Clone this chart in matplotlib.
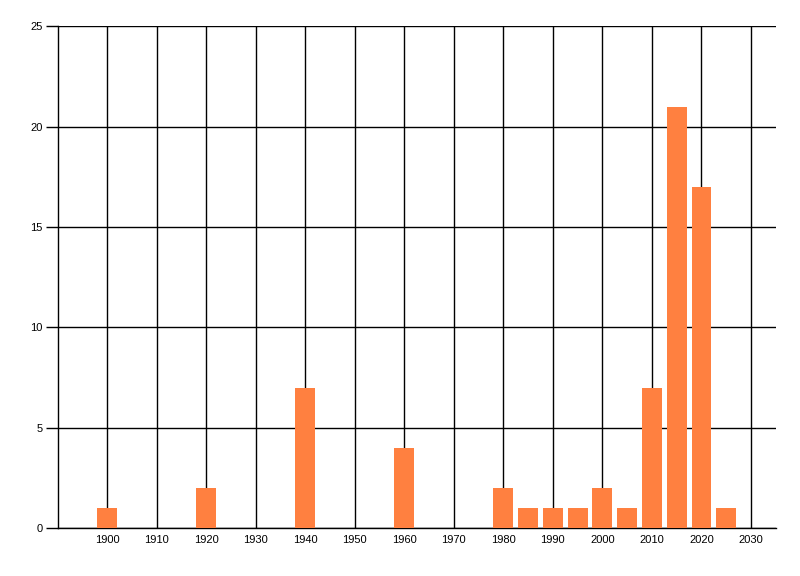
import matplotlib
matplotlib.use("Agg")
import matplotlib.pyplot as plt

# decade/year bins and counts
years = [1900, 1920, 1940, 1960, 1980, 1985, 1990, 1995, 2000, 2005, 2010, 2015, 2020, 2025]
counts = [1, 2, 7, 4, 2, 1, 1, 1, 2, 1, 7, 21, 17, 1]
xticks = list(range(1900, 2031, 10))
yticks = [0, 5, 10, 15, 20, 25]

plt.rcParams['font.family'] = ['Liberation Sans', 'DejaVu Sans']

fig = plt.figure(figsize=(8, 5.76), dpi=100)
ax = fig.add_axes([0.0721, 0.0833, 0.8975, 0.8707])

ax.bar(years, counts, width=4, color='#FF8040', zorder=3)

ax.set_xlim(1890, 2035)
ax.set_ylim(0, 25)
ax.set_xticks(xticks)
ax.set_yticks(yticks)
ax.tick_params(axis='x', length=0, pad=5, labelsize=8)
ax.tick_params(axis='y', length=9, width=1, pad=2, labelsize=8)

ax.grid(True, color='black', linewidth=1, zorder=0)
ax.set_axisbelow(True)
for s in ['top', 'right']:
    ax.spines[s].set_visible(False)
for s in ['left', 'bottom']:
    ax.spines[s].set_linewidth(1)

fig.savefig('out.png', dpi=100)
